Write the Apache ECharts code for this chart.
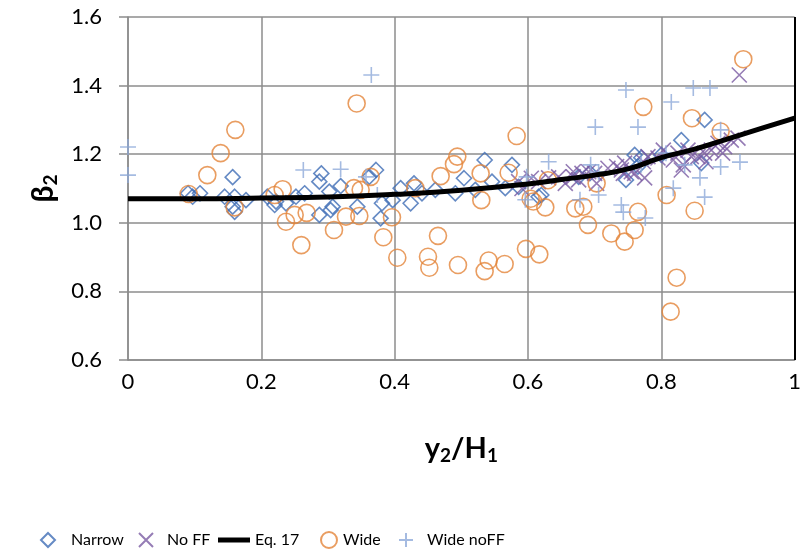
<!DOCTYPE html>
<html>
<head>
<meta charset="utf-8">
<script src="https://cdn.jsdelivr.net/npm/echarts@6/dist/echarts.min.js"></script>
<style>
  html, body { margin: 0; padding: 0; background: #fff; }
  #chart { width: 804px; height: 555px; }
</style>
</head>
<body>
<div id="chart"></div>
<script>
// 数据
var narrow = [
  [0.090,1.086],[0.108,1.086],[0.097,1.076],[0.157,1.133],[0.145,1.076],[0.160,1.076],
  [0.177,1.066],[0.160,1.032],[0.157,1.047],[0.209,1.076],[0.222,1.062],[0.220,1.052],
  [0.237,1.057],[0.252,1.076],[0.265,1.086],[0.290,1.144],[0.287,1.120],[0.302,1.091],
  [0.319,1.107],[0.307,1.047],[0.287,1.023],[0.304,1.037],[0.372,1.154],[0.362,1.134],
  [0.344,1.047],[0.381,1.057],[0.379,1.013],[0.409,1.101],[0.397,1.066],[0.429,1.115],
  [0.441,1.086],[0.424,1.057],[0.461,1.096],[0.491,1.086],[0.504,1.130],[0.521,1.096],
  [0.535,1.183],[0.546,1.120],[0.576,1.169],[0.566,1.101],[0.586,1.105],[0.616,1.076],
  [0.620,1.081],[0.676,1.134],[0.693,1.145],[0.747,1.125],[0.765,1.164],[0.760,1.198],
  [0.770,1.190],[0.800,1.198],[0.830,1.241],[0.865,1.300],[0.860,1.174]
];
var noFF = [
  [0.586,1.120],[0.591,1.100],[0.605,1.130],[0.616,1.120],[0.631,1.131],[0.646,1.134],
  [0.656,1.115],[0.668,1.134],[0.668,1.149],[0.676,1.125],[0.681,1.144],[0.691,1.149],
  [0.700,1.144],[0.703,1.115],[0.720,1.159],[0.733,1.164],[0.740,1.154],[0.743,1.144],
  [0.745,1.174],[0.755,1.149],[0.760,1.144],[0.773,1.178],[0.775,1.131],[0.780,1.193],
  [0.795,1.189],[0.803,1.212],[0.818,1.183],[0.825,1.203],[0.830,1.154],[0.833,1.169],
  [0.840,1.212],[0.845,1.193],[0.855,1.193],[0.865,1.203],[0.867,1.178],[0.875,1.212],
  [0.885,1.232],[0.892,1.203],[0.895,1.222],[0.905,1.241],[0.915,1.247],[0.917,1.431]
];
var eqX = [0, 0.1, 0.2, 0.3, 0.4, 0.5, 0.6, 0.65, 0.7, 0.75, 0.8, 0.85, 0.9, 0.95, 1];
var eqY = [1.07, 1.07, 1.072, 1.075, 1.083, 1.095, 1.113, 1.126, 1.139, 1.157, 1.19, 1.215, 1.245, 1.275, 1.305];
var wide = [
  [0.091,1.084],[0.119,1.139],[0.139,1.203],[0.161,1.271],[0.160,1.045],[0.220,1.081],
  [0.232,1.098],[0.237,1.003],[0.250,1.023],[0.268,1.029],[0.260,0.935],[0.309,0.979],
  [0.327,1.018],[0.343,1.348],[0.339,1.101],[0.349,1.096],[0.364,1.134],[0.347,1.020],
  [0.383,0.958],[0.396,1.016],[0.404,0.898],[0.431,1.101],[0.469,1.136],[0.489,1.171],
  [0.494,1.193],[0.465,0.962],[0.450,0.901],[0.452,0.869],[0.495,0.877],[0.529,1.144],
  [0.530,1.066],[0.541,0.890],[0.535,0.859],[0.565,0.880],[0.571,1.146],[0.583,1.253],
  [0.597,0.924],[0.617,0.908],[0.604,1.070],[0.608,1.062],[0.626,1.045],[0.630,1.124],
  [0.671,1.042],[0.683,1.047],[0.690,0.994],[0.703,1.115],[0.725,0.969],[0.745,0.945],
  [0.760,0.979],[0.765,1.032],[0.773,1.338],[0.808,1.081],[0.846,1.305],[0.850,1.035],
  [0.889,1.266],[0.923,1.477],[0.823,0.840],[0.814,0.741]
];
var wideNoFF = [
  [0,1.221],[0,1.139],[0.263,1.154],[0.319,1.156],[0.365,1.431],[0.357,1.134],
  [0.374,1.081],[0.631,1.178],[0.598,1.134],[0.596,1.067],[0.701,1.279],[0.765,1.279],
  [0.694,1.169],[0.706,1.148],[0.678,1.067],[0.706,1.081],[0.740,1.052],[0.743,1.031],
  [0.776,1.014],[0.770,1.169],[0.747,1.387],[0.848,1.393],[0.873,1.393],[0.815,1.352],
  [0.889,1.271],[0.807,1.203],[0.835,1.169],[0.889,1.163],[0.918,1.177],[0.858,1.131],
  [0.865,1.075],[0.818,1.101]
];
var legendNames = ['Narrow', 'No FF', 'Eq. 17', 'Wide', 'Wide noFF'];

var font = 'Lato, "Liberation Sans", sans-serif';
var gridColor = '#8c8c8c';

var eqData = eqX.map(function (x, i) { return [x, eqY[i]]; });

// 每个图例单独放，位置按原图
function legendItem(name, left, w, h, padLeft, icon) {
  var lg = {
    data: [name],
    left: left,
    top: 539 - h / 2,
    padding: 0,
    itemWidth: w,
    itemHeight: h,
    textStyle: { fontFamily: font, fontSize: 16, color: '#000', padding: [0, 0, 0, padLeft] }
  };
  if (icon) lg.icon = icon;
  return lg;
}

var chart = echarts.init(document.getElementById('chart'));

var option = {
  animation: false,
  grid: { left: 128, right: 7, top: 17, bottom: 195 },
  legend: [
    legendItem(legendNames[0], 40, 14, 14, 11),
    legendItem(legendNames[1], 138, 14, 14, 9),
    legendItem(legendNames[2], 218, 32, 14, 0, 'path://M0,0L32,0L32,5L0,5Z'),
    legendItem(legendNames[3], 320, 16, 16, 1),
    legendItem(legendNames[4], 398, 14, 14, 9)
  ],
  xAxis: {
    type: 'value',
    min: 0,
    max: 1,
    interval: 0.2,
    name: '{b|y}{s|2}{b|/H}{s|1}',
    nameLocation: 'middle',
    nameGap: 72,
    nameTextStyle: {
      rich: {
        b: { fontFamily: font, fontSize: 29, fontWeight: 'bold', color: '#000' },
        s: { fontFamily: font, fontSize: 19, fontWeight: 'bold', color: '#000', padding: [14, 0, 0, 0] }
      }
    },
    axisLine: { show: true, lineStyle: { color: gridColor, width: 1.5 } },
    axisTick: { show: false },
    axisLabel: {
      fontFamily: font, fontSize: 22, color: '#000', margin: 11,
      formatter: function (v) { return (v === 0 || v === 1) ? String(v) : v.toFixed(1); }
    },
    splitLine: { lineStyle: { color: gridColor, width: 1.5 } }
  },
  yAxis: {
    type: 'value',
    min: 0.6,
    max: 1.6,
    interval: 0.2,
    name: '{b|β}{s|2}',
    nameLocation: 'middle',
    nameRotate: 90,
    nameGap: 68,
    nameTextStyle: {
      rich: {
        b: { fontFamily: font, fontSize: 30, fontWeight: 'bold', color: '#000' },
        s: { fontFamily: font, fontSize: 19, fontWeight: 'bold', color: '#000', padding: [14, 0, 0, 0] }
      }
    },
    axisLine: { show: true, lineStyle: { color: gridColor, width: 1.5 } },
    axisTick: { show: true, length: 9, lineStyle: { color: gridColor, width: 1.5 } },
    axisLabel: {
      fontFamily: font, fontSize: 22, color: '#000', margin: 26,
      formatter: function (v) { return v.toFixed(1); }
    },
    splitLine: { lineStyle: { color: gridColor, width: 1.5 } }
  },
  series: [
    {
      name: 'Narrow',
      type: 'scatter',
      symbol: 'diamond',
      symbolSize: 15,
      itemStyle: { color: 'rgba(0,0,0,0)', borderColor: '#3E6DB5', borderWidth: 1.6 },
      data: narrow
    },
    {
      name: 'No FF',
      type: 'scatter',
      symbol: 'path://M0,0L10,10M10,0L0,10',
      symbolSize: 15,
      itemStyle: { color: 'rgba(0,0,0,0)', borderColor: '#7A5BA3', borderWidth: 1.6 },
      data: noFF
    },
    {
      name: 'Eq. 17',
      type: 'line',
      smooth: true,
      symbol: 'none',
      lineStyle: { color: '#000', width: 5 },
      itemStyle: { color: '#000' },
      data: eqData,
      markLine: {
        silent: true,
        symbol: 'none',
        label: { show: false },
        lineStyle: { color: '#000', width: 2, type: 'solid' },
        data: [{ xAxis: 1 }]
      }
    },
    {
      name: 'Wide',
      type: 'scatter',
      symbol: 'circle',
      symbolSize: 17,
      itemStyle: { color: 'rgba(0,0,0,0)', borderColor: '#E3843A', borderWidth: 1.6 },
      data: wide
    },
    {
      name: 'Wide noFF',
      type: 'scatter',
      symbol: 'path://M0,5L10,5M5,0L5,10',
      symbolSize: 16,
      itemStyle: { color: 'rgba(0,0,0,0)', borderColor: '#8FAADA', borderWidth: 1.6 },
      data: wideNoFF
    }
  ]
};

chart.setOption(option);
</script>
</body>
</html>
